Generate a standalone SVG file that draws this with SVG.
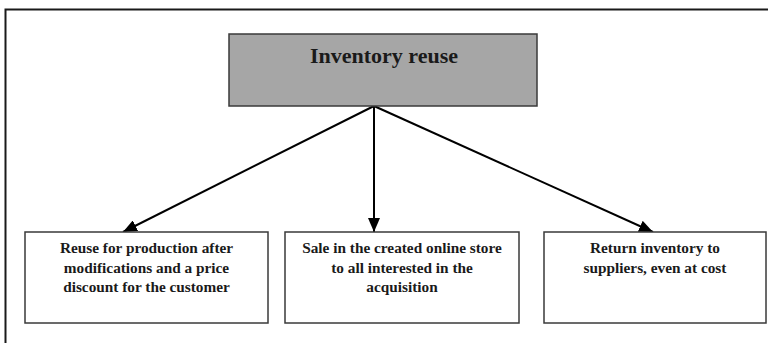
<svg xmlns="http://www.w3.org/2000/svg" width="768" height="343" viewBox="0 0 768 343">
<style>
.box{stroke:#3a3a3a;stroke-width:1.5;fill:#fff}
.t{font-family:"Liberation Serif","Times New Roman",serif;font-weight:bold;fill:#1a1a1a;text-anchor:middle}
.s{font-size:15.3px}
.c{stroke:#000;stroke-width:2;fill:none}
</style>
<defs>
<marker id="ah" markerWidth="14" markerHeight="12" refX="14" refY="6" orient="auto" markerUnits="userSpaceOnUse" viewBox="0 0 14 12">
<path d="M0,0 L14,6 L0,12 z" fill="#000"/>
</marker>
</defs>
<rect width="768" height="343" fill="#fff"/>
<path d="M5.5,343 V9.5 H768" fill="none" stroke="#1a1a1a" stroke-width="2"/>
<g id="connectors">
<line class="c" x1="374" y1="106" x2="123" y2="232" marker-end="url(#ah)"/>
<line class="c" x1="374" y1="106" x2="374" y2="232" marker-end="url(#ah)"/>
<line class="c" x1="374" y1="106" x2="653" y2="232" marker-end="url(#ah)"/>
</g>
<g id="root">
<rect x="229" y="34" width="308" height="72" fill="#a6a6a6" stroke="#3a3a3a" stroke-width="1.5"/>
<text class="t" x="384" y="63" font-size="22">Inventory reuse</text>
</g>
<g id="n1">
<rect class="box" x="25" y="232" width="243" height="91"/>
<text class="t s" x="146.5" y="253">Reuse for production after</text>
<text class="t s" x="146.5" y="272.5">modifications and a price</text>
<text class="t s" x="146.5" y="292">discount for the customer</text>
</g>
<g id="n2">
<rect class="box" x="285" y="232" width="234" height="91"/>
<text class="t s" x="402" y="253">Sale in the created online store</text>
<text class="t s" x="402" y="272.5">to all interested in the</text>
<text class="t s" x="402" y="292">acquisition</text>
</g>
<g id="n3">
<rect class="box" x="544" y="232" width="222" height="91"/>
<text class="t s" x="655" y="253">Return inventory to</text>
<text class="t s" x="655" y="272.5">suppliers, even at cost</text>
</g>
</svg>
